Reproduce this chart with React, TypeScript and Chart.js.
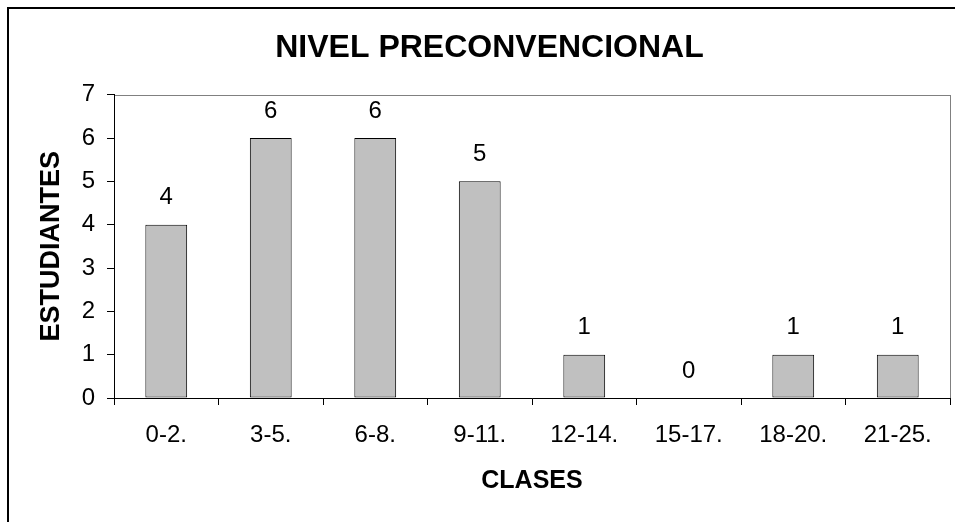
import { useEffect, useRef } from 'react';
import { Chart, registerables } from 'chart.js';

Chart.register(...registerables);

const categories = ['0-2.', '3-5.', '6-8.', '9-11.', '12-14.', '15-17.', '18-20.', '21-25.'];
const estudiantes = [4, 6, 6, 5, 1, 0, 1, 1];
const yMin = 0;
const yMax = 7;
const yStep = 1;
const chartTitle = 'NIVEL PRECONVENCIONAL';
const xTitle = 'CLASES';
const yTitle = 'ESTUDIANTES';

const FONT = "'Liberation Sans', Arial, Helvetica, sans-serif";

const frames = {
  id: 'frames',
  beforeDraw(chart: any) {
    const { ctx, chartArea: a, width, height } = chart;
    ctx.save();
    // outer chart frame (left and top edges)
    ctx.strokeStyle = '#000';
    ctx.lineWidth = 2;
    ctx.beginPath();
    ctx.moveTo(1, height);
    ctx.lineTo(1, 1);
    ctx.lineTo(width, 1);
    ctx.stroke();
    // plot area frame
    ctx.lineWidth = 1;
    ctx.strokeStyle = '#808080';
    ctx.strokeRect(
      Math.round(a.left) + 0.5,
      Math.round(a.top) + 0.5,
      Math.round(a.right - a.left),
      Math.round(a.bottom - a.top)
    );
    ctx.restore();
  },
};

const valueLabels = {
  id: 'valueLabels',
  afterDatasetsDraw(chart: any) {
    const { ctx } = chart;
    const meta = chart.getDatasetMeta(0);
    const data = chart.data.datasets[0].data;
    ctx.save();
    ctx.font = `24px ${FONT}`;
    ctx.fillStyle = '#000';
    ctx.textAlign = 'center';
    ctx.textBaseline = 'middle';
    meta.data.forEach((bar: any, i: number) => {
      ctx.fillText(String(data[i]), bar.x, bar.y - 27);
    });
    ctx.restore();
  },
};

export default function App() {
  const ref = useRef<HTMLCanvasElement>(null);

  useEffect(() => {
    document.documentElement.style.overflow = 'hidden';
    document.body.style.overflow = 'hidden';
    const chart = new Chart(ref.current as HTMLCanvasElement, {
      type: 'bar',
      data: {
        labels: categories,
        datasets: [
          {
            label: yTitle,
            data: estudiantes,
            backgroundColor: '#C0C0C0',
            borderColor: '#000000',
            borderWidth: 1,
            borderSkipped: false,
            barPercentage: 0.4,
            categoryPercentage: 1,
          },
        ],
      },
      options: {
        responsive: false,
        animation: false,
        devicePixelRatio: 1,
        layout: { padding: { top: 0, left: 22, right: 5, bottom: 0 } },
        plugins: {
          legend: { display: false },
          tooltip: { enabled: false },
          title: {
            display: true,
            text: chartTitle,
            color: '#000',
            font: { family: FONT, size: 32, weight: 'bold' },
            padding: { top: 21.5, bottom: 27.8 },
          },
        },
        scales: {
          x: {
            grid: {
              display: true,
              drawOnChartArea: false,
              drawTicks: true,
              tickLength: 7,
              color: '#000',
              lineWidth: 1,
            },
            border: { display: true, color: '#000', width: 1 },
            ticks: {
              color: '#000',
              font: { family: FONT, size: 24 },
              padding: 16,
              autoSkip: false,
              maxRotation: 0,
            },
            title: {
              display: true,
              text: xTitle,
              color: '#000',
              font: { family: FONT, size: 25, weight: 'bold' },
              padding: { top: 0, bottom: 26 },
            },
            afterFit: (s: any) => {
              s.height = 124;
            },
          },
          y: {
            min: yMin,
            max: yMax,
            grid: {
              display: true,
              drawOnChartArea: false,
              drawTicks: true,
              tickLength: 7,
              color: '#000',
              lineWidth: 1,
            },
            border: { display: true, color: '#000', width: 1 },
            ticks: {
              stepSize: yStep,
              color: '#000',
              font: { family: FONT, size: 24 },
              padding: 12,
            },
            title: {
              display: true,
              text: yTitle,
              color: '#000',
              font: { family: FONT, size: 27, weight: 'bold' },
              padding: { top: 6.5, bottom: 0 },
            },
            afterFit: (s: any) => {
              s.width = 85;
            },
          },
        },
      },
      plugins: [frames, valueLabels],
    });
    return () => chart.destroy();
  }, []);

  return (
    <div
      style={{
        position: 'fixed',
        left: 7,
        top: 7,
        width: 948,
        height: 515,
        background: '#fff',
      }}
    >
      <canvas ref={ref} width={948} height={515} style={{ display: 'block' }} />
    </div>
  );
}
